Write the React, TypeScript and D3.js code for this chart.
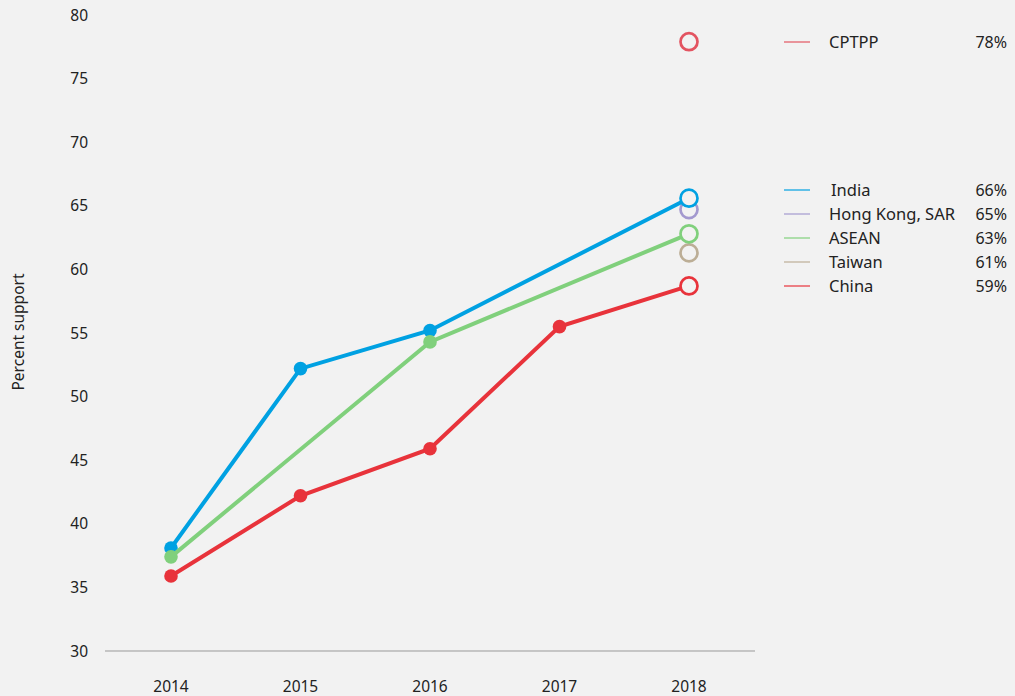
import React from "react";
import * as d3 from "d3";

const years = [2014, 2015, 2016, 2017, 2018];
const yTicks = [30, 35, 40, 45, 50, 55, 60, 65, 70, 75, 80];

const indiaYears = [2014, 2015, 2016, 2018];
const indiaValues = [38.1, 52.2, 55.2, 65.6];
const aseanYears = [2014, 2016, 2018];
const aseanValues = [37.4, 54.3, 62.8];
const chinaYears = [2014, 2015, 2016, 2017, 2018];
const chinaValues = [35.9, 42.2, 45.9, 55.5, 58.7];

const singleNames = ["CPTPP", "Hong Kong, SAR", "Taiwan"];
const singleValues = [77.9, 64.7, 61.3];

const legendNames = ["CPTPP", "India", "Hong Kong, SAR", "ASEAN", "Taiwan", "China"];
const legendLabels = ["78%", "66%", "65%", "63%", "61%", "59%"];

const COLORS: Record<string, string> = {
  CPTPP: "#e35461",
  India: "#00a1e2",
  "Hong Kong, SAR": "#a399cf",
  ASEAN: "#80d07c",
  Taiwan: "#bcae96",
  China: "#e8333b",
};

const W = 1015;
const H = 696;
const FONT = "'Noto Sans', Lato, sans-serif";

export default function App() {
  const x = d3.scaleLinear().domain([2014, 2018]).range([171, 689]);
  const y = d3.scaleLinear().domain([30, 80]).range([651, 15]);
  const line = d3
    .line<[number, number]>()
    .x((d) => x(d[0]))
    .y((d) => y(d[1]));

  const series = [
    { name: "India", yrs: indiaYears, vals: indiaValues },
    { name: "ASEAN", yrs: aseanYears, vals: aseanValues },
    { name: "China", yrs: chinaYears, vals: chinaValues },
  ];

  const legendY = (i: number) => (i === 0 ? 42 : 190 + (i - 1) * 24);

  return (
    <svg
      width={W}
      height={H}
      style={{ position: "fixed", left: 0, top: 0, background: "#f2f2f2", fontFamily: FONT }}
    >
      <rect x={0} y={0} width={W} height={H} fill="#f2f2f2" />
      {/* y tick labels */}
      {yTicks.map((t) => (
        <text key={t} x={88} y={y(t)} dy="0.36em" textAnchor="end" fontSize={15.5} fill="#222">
          {t}
        </text>
      ))}
      <text
        transform={`translate(24,${332}) rotate(-90)`}
        textAnchor="middle"
        fontSize={15.5}
        fill="#222"
      >
        Percent support
      </text>
      {/* baseline */}
      <line x1={105} x2={755} y1={y(30)} y2={y(30)} stroke="#999" strokeWidth={1} />
      {/* x tick labels */}
      {years.map((yr) => (
        <text key={yr} x={x(yr)} y={692} textAnchor="middle" fontSize={15.5} fill="#222">
          {yr}
        </text>
      ))}
      {/* single-point rings behind */}
      {singleNames.map((n, i) => (
        <circle
          key={n}
          cx={x(2018)}
          cy={y(singleValues[i])}
          r={8.5}
          fill="none"
          stroke={COLORS[n]}
          strokeWidth={2.7}
        />
      ))}
      {/* lines */}
      {series.map((s) => (
        <g key={s.name}>
          <path
            d={line(s.yrs.map((yr, i) => [yr, s.vals[i]] as [number, number])) || ""}
            fill="none"
            stroke={COLORS[s.name]}
            strokeWidth={4}
          />
          {s.yrs.map((yr, i) =>
            yr === 2018 ? (
              <circle
                key={yr}
                cx={x(yr)}
                cy={y(s.vals[i])}
                r={8.5}
                fill="#f2f2f2"
                stroke={COLORS[s.name]}
                strokeWidth={2.7}
              />
            ) : (
              <circle key={yr} cx={x(yr)} cy={y(s.vals[i])} r={6.8} fill={COLORS[s.name]} />
            )
          )}
        </g>
      ))}
      {/* legend */}
      {legendNames.map((n, i) => (
        <g key={n}>
          <line
            x1={784}
            x2={810}
            y1={legendY(i)}
            y2={legendY(i)}
            stroke={COLORS[n]}
            strokeWidth={1.2}
          />
          <text x={n === "India" ? 831 : 829} y={legendY(i)} dy="0.36em" fontSize={16.5} fill="#222">
            {n}
          </text>
          <text x={1007} y={legendY(i)} dy="0.36em" textAnchor="end" fontSize={16} fill="#222">
            {legendLabels[i]}
          </text>
        </g>
      ))}
    </svg>
  );
}
